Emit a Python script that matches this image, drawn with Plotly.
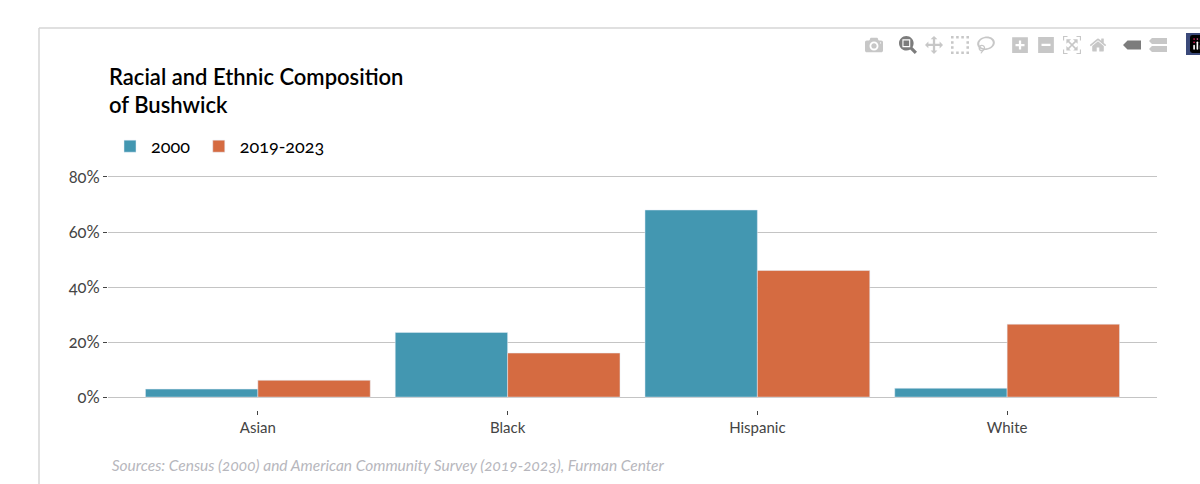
import plotly.graph_objects as go

categories = ["Asian", "Black", "Hispanic", "White"]
values_2000 = [2.9, 23.5, 68, 3.2]
values_2019 = [6.1, 16, 46, 26.5]
y_ticks = [0, 20, 40, 60, 80]
y_labels = ["0%", "20%", "40%", "60%", "80%"]
title_text = "Racial and Ethnic Composition<br>of Bushwick"
source_text = "<i>Sources: Census (2000) and American Community Survey (2019-2023), Furman Center</i>"

FONT = "Lato, Noto Sans, sans-serif"
W, H = 1200, 484

fig = go.Figure()
fig.add_bar(name="2000", x=categories, y=values_2000, marker_color="#4397b1")
fig.add_bar(name="2019-2023", x=categories, y=values_2019, marker_color="#d56b41")

fig.update_layout(
    width=W, height=H, autosize=False,
    margin=dict(l=0, r=0, t=0, b=0),
    barmode="group", bargap=0.1, bargroupgap=0,
    paper_bgcolor="white", plot_bgcolor="white",
    font=dict(family=FONT, color="#444444", size=15),
    title=dict(text=title_text, x=109 / W, xanchor="left", y=1 - 84.5 / H, yanchor="middle",
               font=dict(family=FONT, size=22, color="#000000", weight=600)),
    legend=dict(orientation="h", x=109 / W, xanchor="left", y=1 - 128 / H, yanchor="top",
                itemwidth=32, font=dict(size=18, color="#000000"),
                bgcolor="rgba(0,0,0,0)"),
    xaxis=dict(domain=[108 / W, 1157 / W], range=[-0.6, 3.6], ticks="outside", ticklen=4,
               automargin=False,
               tickcolor="#444444", tickwidth=1, showgrid=False, showline=False, zeroline=False,
               tickfont=dict(size=15, color="#444444")),
    yaxis=dict(domain=[1 - 410 / H, 1 - 175.6 / H], range=[-4.7, 80.5], tickvals=y_ticks,
               automargin=False,
               ticktext=y_labels, ticks="outside", ticklen=4,
               tickcolor="#444444", tickwidth=1, showgrid=True, gridcolor="#c4c4c4", gridwidth=1,
               zeroline=True, zerolinecolor="#c4c4c4", zerolinewidth=1, showline=False,
               tickfont=dict(size=16.5, color="#444444")),
    annotations=[dict(text=source_text, xref="paper", yref="paper", x=106 / W, y=1 - 465 / H,
                      xanchor="left", yanchor="middle", showarrow=False, xshift=0,
                      font=dict(size=15.5, color="#b7b7bd", family=FONT))],
    shapes=[
        dict(type="line", xref="paper", yref="paper", x0=39 / W, x1=1, y0=1 - 28 / H, y1=1 - 28 / H,
             line=dict(width=1.5, color="#d6d6d6")),
        dict(type="line", xref="paper", yref="paper", x0=39 / W, x1=39 / W, y0=0, y1=1 - 28 / H,
             line=dict(width=1.5, color="#d6d6d6")),
    ],
)

post = """
document.body.style.margin='0';
document.body.style.overflow='hidden';
var s=document.createElement('style');
s.textContent='svg text{font-variant-numeric:oldstyle-nums;font-feature-settings:"onum" 1;}'
+' .modebar{top:33px !important;right:-12px !important;}'
+' .modebar-group{background:transparent !important;}'
+' .modebar-group:last-child{margin-left:7px !important;}'
+' .modebar-btn{font-size:18px !important;}'
+' .modebar-btn svg{height:18px !important;width:18px !important;}'
+' .modebar-btn--logo{background:#3b4a7a !important;}';
document.head.appendChild(s);
"""
fig.write_html("out.html",
               config={"displayModeBar": True,
                       "modeBarButtonsToAdd": ["v1hovermode"]},
               post_script=post)
